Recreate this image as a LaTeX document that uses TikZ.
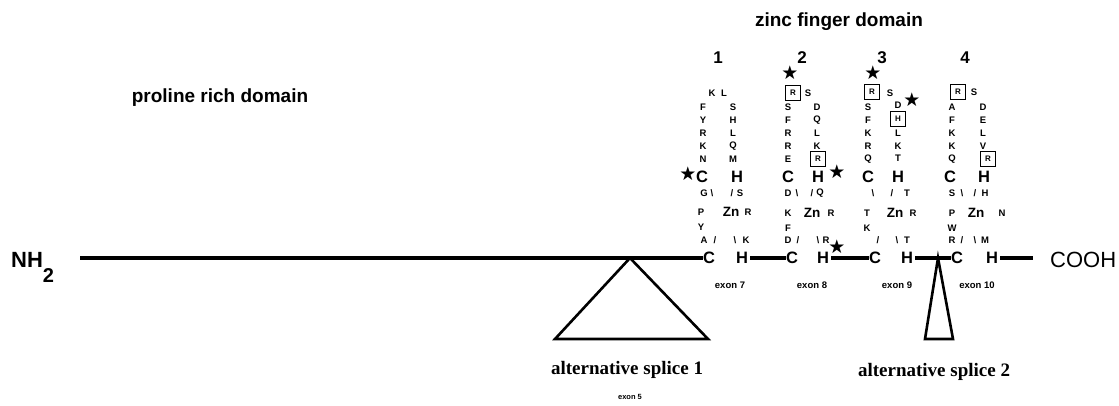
\documentclass[tikz,border=0pt]{standalone}
\usepackage{fontspec}
\setmainfont{Liberation Sans}
\newfontfamily\serifb{Liberation Serif}
\newfontfamily\symfont{DejaVu Sans}
\newcommand{\fsz}[1]{\fontsize{#1}{#1}\selectfont}
\newcommand{\bsl}{\textbackslash}
\tikzset{
 aa/.style={font=\fsz{9.5}\bfseries, inner sep=0pt},
 ch/.style={font=\fsz{16.5}\bfseries, inner sep=0pt},
 zn/.style={font=\fsz{13.5}\bfseries, inner sep=0pt},
 num/.style={font=\fsz{17}\bfseries, inner sep=0pt},
 boxaa/.style={font=\fsz{8}\bfseries, inner sep=0pt, draw, line width=1.6pt, minimum size=15pt},
 starmark/.style={font=\symfont\fsz{19}, inner sep=0pt},
 exonlab/.style={font=\fsz{9.5}\bfseries, inner sep=0pt},
 titlelab/.style={font=\fsz{19}\bfseries, inner sep=0pt},
 splicelab/.style={font=\serifb\fsz{19}\bfseries, inner sep=0pt},
 endlab/.style={font=\fsz{22}, inner sep=0pt},
 chainline/.style={line width=3.2pt},
 trianglestyle/.style={line width=2.6pt, line join=miter},
}
\begin{document}
\begin{tikzpicture}[x=1pt,y=-1pt]
\useasboundingbox (0,0) rectangle (1119,405);

% titles
\node[titlelab] (zfd) at (839,22) {zinc finger domain};
\node[titlelab] (prd) at (220,98) {proline rich domain};

% termini
\node[endlab, font=\fsz{22}\bfseries, anchor=base west] (nh2) at (11,267) {NH\raisebox{-15pt}{\fsz{20}2}};
\node[endlab, anchor=base west] (cooh) at (1050,267) {COOH};
\coordinate (lstart) at (80,258);
\coordinate (lend) at (1033,258);

% ---------- finger 1 ----------
\node[num] (n1) at (718,58) {1};
\node[aa] (f1k) at (712,93) {K};
\node[aa] (f1l) at (724,93) {L};
\foreach \t [count=\i] in {F,Y,R,K,N} \node[aa] (f1a\i) at (703,94+13*\i) {\t};
\foreach \t [count=\i] in {S,H,L,Q,M} \node[aa] (f1b\i) at (733,94+13*\i) {\t};
\node[starmark] (s1a) at (688,174) {★};
\node[ch] (f1c) at (702,177) {C};
\node[ch] (f1h) at (737,177) {H};
\node[aa] (f1g) at (704,193) {G};
\node[aa] (f1d1) at (712,193) {\bsl};
\node[aa] (f1d2) at (732,193) {/};
\node[aa] (f1s) at (740,193) {S};
\node[aa] (f1p) at (701,212) {P};
\node[zn] (zn1) at (731,212) {Zn};
\node[aa] (f1r) at (748,212) {R};
\node[aa] (f1y) at (701,227) {Y};
\node[aa] (f1al) at (704,240) {A};
\node[aa] (f1d3) at (715,240) {/};
\node[aa] (f1d4) at (735,240) {\bsl};
\node[aa] (f1kk) at (746,240) {K};
\node[ch] (C1) at (709,258) {C};
\node[ch] (H1) at (742,258) {H};
\node[exonlab] (e7) at (730,285) {exon 7};

% ---------- finger 2 ----------
\node[num] (n2) at (802,58) {2};
\node[starmark] (s2a) at (790,73) {★};
\node[boxaa] (f2bx1) at (793,93) {R};
\node[aa] (f2s) at (808,93) {S};
\foreach \t [count=\i] in {S,F,R,R,E} \node[aa] (f2a\i) at (788,94+13*\i) {\t};
\foreach \t [count=\i] in {D,Q,L,K} \node[aa] (f2b\i) at (817,94+13*\i) {\t};
\node[boxaa] (f2bx2) at (818,159) {R};
\node[ch] (f2c) at (788,177) {C};
\node[ch] (f2h) at (818,177) {H};
\node[starmark] (s2b) at (837,172) {★};
\node[aa] (f2dd) at (788,193) {D};
\node[aa] (f2d1) at (797,193) {\bsl};
\node[aa] (f2d2) at (812,193) {/};
\node[aa] (f2q) at (820,193) {Q};
\node[aa] (f2k) at (788,213) {K};
\node[zn] (zn2) at (812,213) {Zn};
\node[aa] (f2r) at (831,213) {R};
\node[aa] (f2f) at (788,228) {F};
\node[aa] (f2d) at (788,240) {D};
\node[aa] (f2d3) at (798,240) {/};
\node[aa] (f2d4) at (818,240) {\bsl};
\node[aa] (f2rr) at (826,240) {R};
\node[starmark] (s2c) at (837,247) {★};
\node[ch] (C2) at (792,258) {C};
\node[ch] (H2) at (823,258) {H};
\node[exonlab] (e8) at (812,285) {exon 8};

% ---------- finger 3 ----------
\node[num] (n3) at (882,58) {3};
\node[starmark] (s3a) at (873,73) {★};
\node[boxaa] (f3bx1) at (872,92) {R};
\node[aa] (f3s) at (890,93) {S};
\node[starmark] (s3b) at (912,100) {★};
\foreach \t [count=\i] in {S,F,K,R,Q} \node[aa] (f3a\i) at (868,94+13*\i) {\t};
\node[aa] (f3dd) at (898,105) {D};
\node[boxaa] (f3bx2) at (898,119) {H};
\foreach \t [count=\i] in {L,K,T} \node[aa] (f3b\i) at (898,121+12.5*\i) {\t};
\node[ch] (f3c) at (868,177) {C};
\node[ch] (f3h) at (898,177) {H};
\node[aa] (f3d1) at (873,193) {\bsl};
\node[aa] (f3d2) at (892,193) {/};
\node[aa] (f3t) at (907,193) {T};
\node[aa] (f3tt) at (867,213) {T};
\node[zn] (zn3) at (895,213) {Zn};
\node[aa] (f3r) at (913,213) {R};
\node[aa] (f3k) at (867,228) {K};
\node[aa] (f3d3) at (878,240) {/};
\node[aa] (f3d4) at (897,240) {\bsl};
\node[aa] (f3t2) at (907,240) {T};
\node[ch] (C3) at (875,258) {C};
\node[ch] (H3) at (907,258) {H};
\node[exonlab] (e9) at (897,285) {exon 9};

% ---------- finger 4 ----------
\node[num] (n4) at (965,58) {4};
\node[boxaa] (f4bx1) at (958,92) {R};
\node[aa] (f4s) at (974,92) {S};
\foreach \t [count=\i] in {A,F,K,K,Q} \node[aa] (f4a\i) at (952,94+13*\i) {\t};
\foreach \t [count=\i] in {D,E,L,V} \node[aa] (f4b\i) at (983,94+13*\i) {\t};
\node[boxaa] (f4bx2) at (988,159) {R};
\node[ch] (f4c) at (950,177) {C};
\node[ch] (f4h) at (984,177) {H};
\node[aa] (f4ss) at (952,193) {S};
\node[aa] (f4d1) at (962,193) {\bsl};
\node[aa] (f4d2) at (975,193) {/};
\node[aa] (f4hh) at (985,193) {H};
\node[aa] (f4p) at (952,213) {P};
\node[zn] (zn4) at (976,213) {Zn};
\node[aa] (f4n) at (1002,213) {N};
\node[aa] (f4w) at (952,228) {W};
\node[aa] (f4rr) at (952,240) {R};
\node[aa] (f4d3) at (962,240) {/};
\node[aa] (f4d4) at (975,240) {\bsl};
\node[aa] (f4m) at (985,240) {M};
\node[ch] (C4) at (957,258) {C};
\node[ch] (H4) at (992,258) {H};
\node[exonlab] (e10) at (977,285) {exon 10};

% ---------- main chain ----------
\draw[chainline] (lstart) -- (C1.west);
\draw[chainline] ([xshift=2pt]H1.east) -- (C2.west);
\draw[chainline] ([xshift=2pt]H2.east) -- (C3.west);
\draw[chainline] ([xshift=2pt]H3.east) -- (C4.west);
\draw[chainline] ([xshift=2pt]H4.east) -- (lend);

% ---------- splice triangles ----------
\coordinate (t1a) at (630,258);
\coordinate (t1l) at (555,339);
\coordinate (t1r) at (708,339);
\draw[trianglestyle] (t1a) -- (t1l) -- (t1r) -- cycle;
\coordinate (t2a) at (938,258);
\coordinate (t2l) at (925,339);
\coordinate (t2r) at (953,339);
\draw[trianglestyle] (t2a) -- (t2l) -- (t2r) -- cycle;

\node[splicelab] (sp1) at (627,370) {alternative splice 1};
\node[exonlab, font=\fsz{7.5}\bfseries] (e5) at (630,397) {exon 5};
\node[splicelab] (sp2) at (934,372) {alternative splice 2};
\end{tikzpicture}
\end{document}
